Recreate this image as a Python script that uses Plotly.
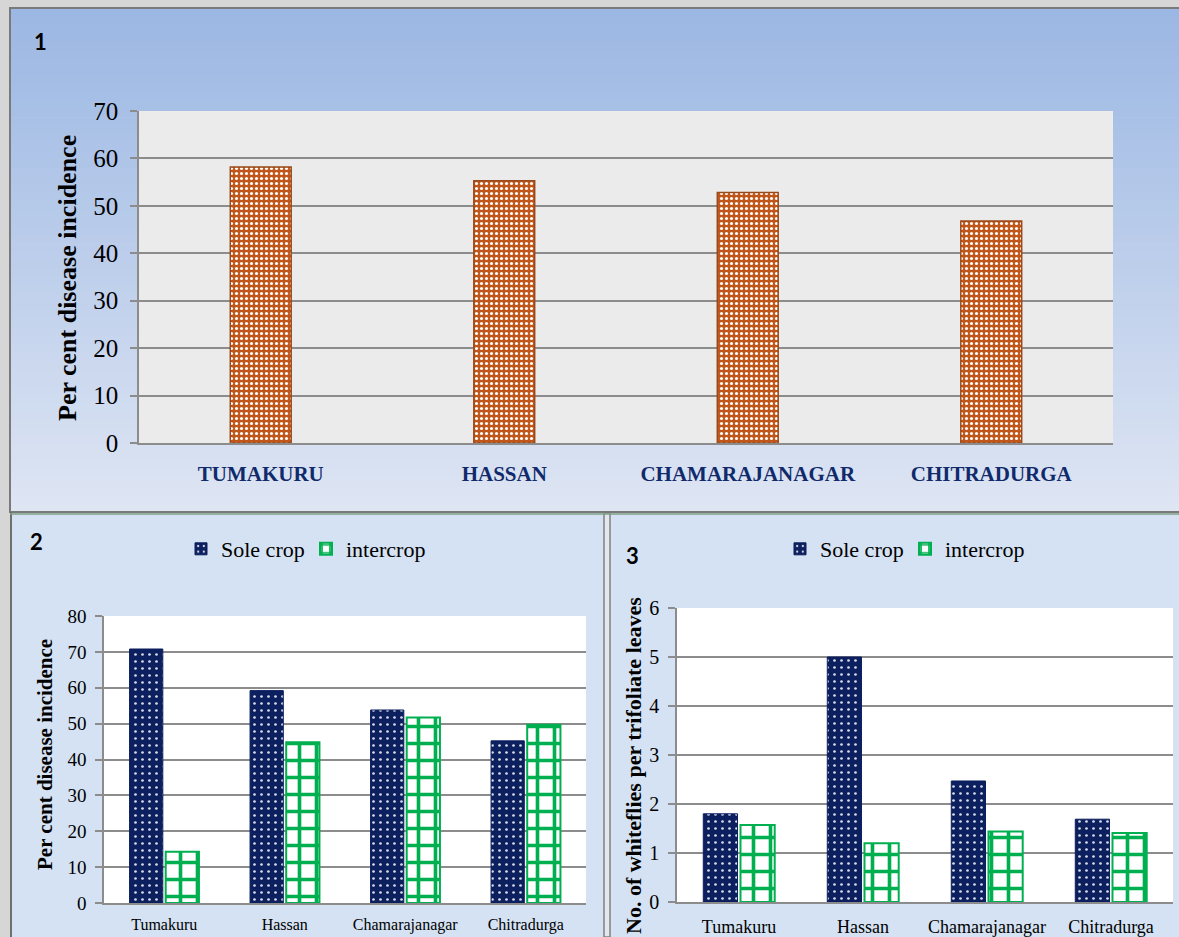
import plotly.graph_objects as go

# ---------------- data ----------------
districts_upper = ["TUMAKURU", "HASSAN", "CHAMARAJANAGAR", "CHITRADURGA"]
districts = ["Tumakuru", "Hassan", "Chamarajanagar", "Chitradurga"]
survey_pdi = [58.2, 55.3, 52.8, 46.8]
pdi_sole = [70.8, 59.2, 53.8, 45.2]
pdi_inter = [14.3, 44.8, 51.7, 49.7]
wf_sole = [1.80, 5.00, 2.47, 1.69]
wf_inter = [1.57, 1.20, 1.44, 1.41]
y1_ticks = [0, 10, 20, 30, 40, 50, 60, 70]
y2_ticks = [0, 10, 20, 30, 40, 50, 60, 70, 80]
y3_ticks = [0, 1, 2, 3, 4, 5, 6]

W, H = 1179, 937
SERIF = "Liberation Serif"
SANS = "Lato"
NAVY = "#0c1f5e"
GREEN = "#00b050"
BROWN = "#c0561a"
GRID = "#8c8c8c"


def px(x):
    return x / W


def py(y):
    return 1 - y / H


fig = go.Figure()

# panel 1
fig.add_trace(go.Bar(
    x=districts_upper, y=survey_pdi, xaxis="x", yaxis="y", showlegend=False,
    width=0.25,
    marker=dict(color=BROWN, line=dict(color="#9a4a1a", width=1.5),
                pattern=dict(shape=".", fgcolor="white", bgcolor=BROWN,
                             size=5, solidity=0.3, fillmode="replace")),
))

sole_marker = dict(color=NAVY, line=dict(color=NAVY, width=1),
                   pattern=dict(shape=".", fgcolor="#d8dcea", bgcolor=NAVY,
                                size=7, solidity=0.12, fillmode="replace"))
inter_marker = dict(color="white", line=dict(color=GREEN, width=2),
                    pattern=dict(shape="+", fgcolor=GREEN, bgcolor="white",
                                 size=17, solidity=0.38, fillmode="replace"))

# panel 2
fig.add_trace(go.Bar(x=districts, y=pdi_sole, name="Sole crop", xaxis="x2", yaxis="y2",
                     legend="legend", marker=sole_marker))
fig.add_trace(go.Bar(x=districts, y=pdi_inter, name="intercrop", xaxis="x2", yaxis="y2",
                     legend="legend", marker=inter_marker))

# panel 3
fig.add_trace(go.Bar(x=districts, y=wf_sole, name="Sole crop", xaxis="x3", yaxis="y3",
                     legend="legend2", marker=sole_marker))
fig.add_trace(go.Bar(x=districts, y=wf_inter, name="intercrop", xaxis="x3", yaxis="y3",
                     legend="legend2", marker=inter_marker))

shapes = []
# panel 1 gradient background
top_c = (155, 183, 227)
bot_c = (222, 229, 243)
n = 60
y0, y1 = 8, 512
for i in range(n):
    t = i / (n - 1)
    c = tuple(int(round(top_c[k] + (bot_c[k] - top_c[k]) * t)) for k in range(3))
    ya = y0 + (y1 - y0) * i / n
    yb = y0 + (y1 - y0) * (i + 1) / n + 0.6
    shapes.append(dict(type="rect", xref="paper", yref="paper", layer="below",
                       x0=px(10), x1=1, y0=py(ya), y1=py(yb),
                       fillcolor="rgb(%d,%d,%d)" % c, line=dict(width=0)))
# lower panels background
shapes.append(dict(type="rect", xref="paper", yref="paper", layer="below",
                   x0=px(10), x1=1, y0=0, y1=py(513),
                   fillcolor="#d4e2f3", line=dict(width=0)))
# divider between panels 2 and 3
shapes.append(dict(type="rect", xref="paper", yref="paper", layer="below",
                   x0=px(604), x1=px(610), y0=0, y1=py(513),
                   fillcolor="#e4e8ee", line=dict(color="#808080", width=1.5)))
# plot areas
shapes.append(dict(type="rect", xref="paper", yref="paper", layer="below",
                   x0=px(139), x1=px(1113), y0=py(443), y1=py(111),
                   fillcolor="#ebebeb", line=dict(width=0)))
shapes.append(dict(type="rect", xref="paper", yref="paper", layer="below",
                   x0=px(104), x1=px(586), y0=py(903), y1=py(616),
                   fillcolor="white", line=dict(width=0)))
shapes.append(dict(type="rect", xref="paper", yref="paper", layer="below",
                   x0=px(677), x1=px(1173), y0=py(902), y1=py(608),
                   fillcolor="white", line=dict(width=0)))
# frames
shapes.append(dict(type="rect", xref="paper", yref="paper", layer="above",
                   x0=px(10), x1=px(1180), y0=py(512), y1=py(8),
                   fillcolor="rgba(0,0,0,0)", line=dict(color="#7a7a7a", width=2)))
shapes.append(dict(type="line", xref="paper", yref="paper", layer="above",
                   x0=px(11), x1=px(11), y0=0, y1=py(512),
                   line=dict(color="#6f6f6f", width=2)))
shapes.append(dict(type="line", xref="paper", yref="paper", layer="above",
                   x0=px(10), x1=1, y0=py(514), y1=py(514),
                   line=dict(color="#7f9f86", width=1.5)))


def ann(text, x, y, size, family, angle=0):
    return dict(text=text, x=px(x), y=py(y), xref="paper", yref="paper",
                xanchor="center", yanchor="middle", showarrow=False, textangle=angle,
                font=dict(family=family, size=size, color="black"))


annotations = [
    ann("<b>1</b>", 40, 42, 22, SANS),
    ann("<b>2</b>", 36, 541, 22, SANS),
    ann("<b>3</b>", 632, 555, 22, SANS),
    ann("<b>Per cent disease incidence</b>", 68, 278, 26, SERIF, -90),
    ann("<b>Per cent disease incidence</b>", 45, 755, 21, SERIF, -90),
    ann("<b>No. of whiteflies per trifoliate leaves</b>", 633, 766, 22, SERIF, -90),
]

common_y = dict(showline=True, linecolor=GRID, linewidth=1.5, ticks="outside",
                tickcolor=GRID, ticklen=7, tickwidth=1.5, showgrid=True,
                gridcolor=GRID, gridwidth=1.5, zeroline=False, automargin=False)
common_x = dict(showline=True, linecolor=GRID, linewidth=2, ticks="", showgrid=False,
                automargin=False)

fig.update_layout(
    width=W, height=H, margin=dict(l=0, r=0, t=0, b=0, autoexpand=False),
    paper_bgcolor="#d6d6d6", plot_bgcolor="rgba(0,0,0,0)",
    shapes=shapes, annotations=annotations,
    font=dict(family=SERIF, color="black"),
    barmode="group",
    xaxis=dict(domain=[px(139), px(1113)], anchor="y",
               tickfont=dict(family=SERIF, size=21, color="#102a6c", weight="bold"),
               ticklabelstandoff=11, **common_x),
    yaxis=dict(domain=[py(443), py(111)], anchor="x", range=[0, 70],
               tickvals=y1_ticks, tickfont=dict(family=SERIF, size=25),
               ticklabelstandoff=7, **common_y),
    xaxis2=dict(domain=[px(104), px(586)], anchor="y2",
                tickfont=dict(family=SERIF, size=16), ticklabelstandoff=6, **common_x),
    yaxis2=dict(domain=[py(903), py(616)], anchor="x2", range=[0, 80],
                tickvals=y2_ticks, tickfont=dict(family=SERIF, size=19),
                ticklabelstandoff=5, **common_y),
    xaxis3=dict(domain=[px(677), px(1173)], anchor="y3",
                tickfont=dict(family=SERIF, size=18), ticklabelstandoff=7, **common_x),
    yaxis3=dict(domain=[py(902), py(608)], anchor="x3", range=[0, 6],
                tickvals=y3_ticks, tickfont=dict(family=SERIF, size=20),
                ticklabelstandoff=5, **common_y),
    bargap=0.4, bargroupgap=0.08,
    legend=dict(orientation="h", x=px(181), y=py(549), xanchor="left", yanchor="middle",
                bgcolor="rgba(0,0,0,0)", font=dict(family=SERIF, size=22, color="black"),
                itemwidth=30, entrywidth=80, traceorder="normal"),
    legend2=dict(orientation="h", x=px(780), y=py(549), xanchor="left", yanchor="middle",
                 bgcolor="rgba(0,0,0,0)", font=dict(family=SERIF, size=22, color="black"),
                 itemwidth=30, entrywidth=80, traceorder="normal"),
)

fig.write_html("out.html")
